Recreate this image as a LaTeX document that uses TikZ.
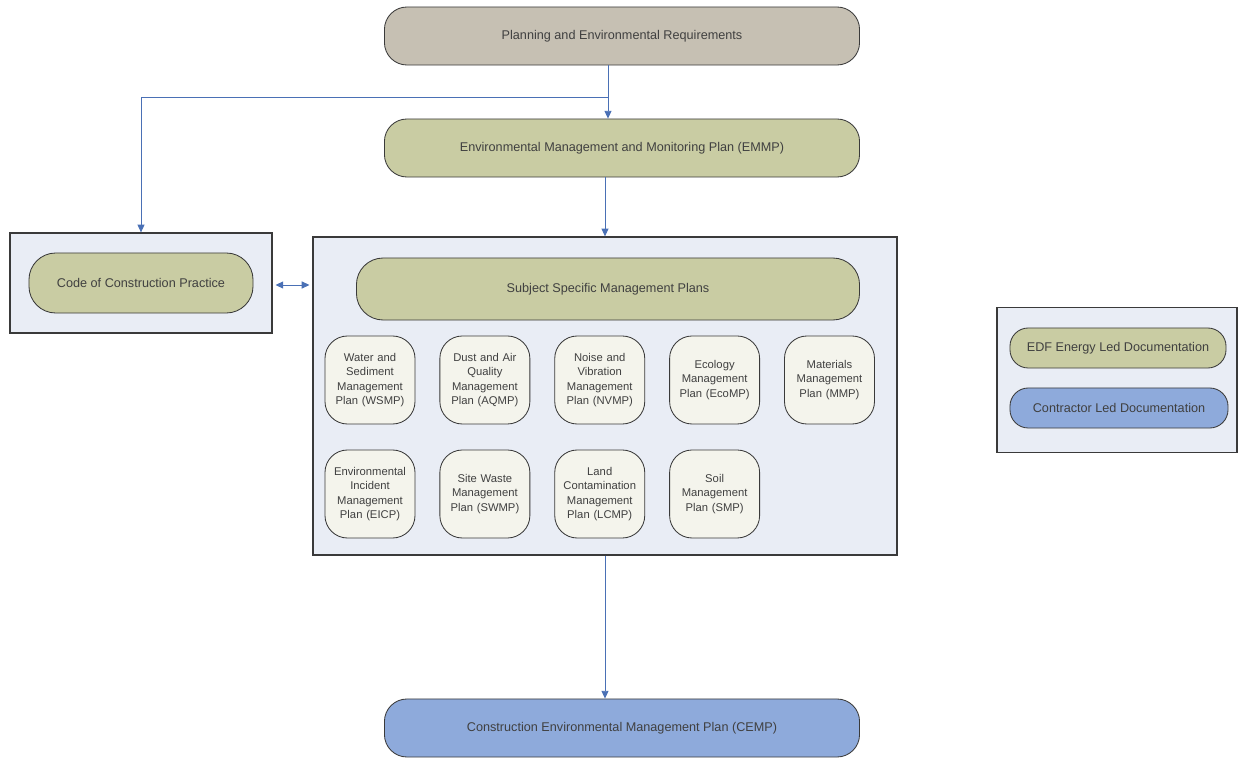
\documentclass[tikz,border=0pt]{standalone}
\usepackage{fontspec}
\setmainfont{Liberation Sans}
\usetikzlibrary{arrows.meta, positioning, calc}
\definecolor{plangrey}{HTML}{C6C0B3}
\definecolor{edfgreen}{HTML}{C9CCA3}
\definecolor{subcream}{HTML}{F4F4EC}
\definecolor{panelblue}{HTML}{E9EDF5}
\definecolor{contblue}{HTML}{8EAADB}
\definecolor{linkblue}{HTML}{4A70B5}
\definecolor{edgegrey}{HTML}{3A3A3A}

\begin{document}
\begin{tikzpicture}[x=0.025cm, y=-0.025cm,
    doc/.style={draw=edgegrey, fill=#1, rounded corners=16pt, line width=0.6pt,
                font=\fontsize{9}{11}\selectfont, text=black!75, align=center},
    wide/.style={doc=#1, minimum width=11.875cm, minimum height=1.45cm},
    subplan/.style={doc=subcream, minimum width=2.25cm, minimum height=2.2cm,
                    text width=2.15cm, inner sep=1pt, font=\fontsize{8}{10.2}\selectfont},
    panel/.style={draw=edgegrey, fill=panelblue, line width=0.9pt},
    link/.style={-{Triangle[length=5.5pt, width=5pt]}, linkblue, line width=0.6pt},
]
    \useasboundingbox (0,0) rectangle (1238,760);

    % Containers
    \node[panel, minimum width=6.55cm, minimum height=2.5cm] (cocpbox) at (141,283) {};
    \node[panel, minimum width=14.6cm, minimum height=7.95cm] (big) at (605,396) {};
    \node[panel, minimum width=6.0cm, minimum height=3.625cm] (legend) at (1117,380) {};

    % Main chain
    \node[wide=plangrey] (plan) at (622,36) {Planning and Environmental Requirements};
    \node[wide=edfgreen] (emmp) at (622,148) {Environmental Management and Monitoring Plan (EMMP)};
    \node[wide=contblue] (cemp) at (622,728) {Construction Environmental Management Plan (CEMP)};

    \node[doc=edfgreen, rounded corners=19pt, minimum width=5.6cm, minimum height=1.5cm] (cocp) at (cocpbox.center) {Code of Construction Practice};
    \node[doc=edfgreen, rounded corners=19pt, minimum width=12.575cm, minimum height=1.55cm] (ssmp) at (608,289) {Subject Specific Management Plans};

    % Subject plans
    \node[subplan] (wsmp) at (370,380) {Water and\\Sediment\\Management\\Plan (WSMP)};
    \node[subplan, right=0.6cm of wsmp] (aqmp) {Dust and Air\\Quality\\Management\\Plan (AQMP)};
    \node[subplan, right=0.6cm of aqmp] (nvmp) {Noise and\\Vibration\\Management\\Plan (NVMP)};
    \node[subplan, right=0.6cm of nvmp] (ecomp) {Ecology\\Management\\Plan (EcoMP)};
    \node[subplan, right=0.6cm of ecomp] (mmp) {Materials\\Management\\Plan (MMP)};
    \node[subplan] (eicp) at (370,494) {Environmental\\Incident\\Management\\Plan (EICP)};
    \node[subplan, right=0.6cm of eicp] (swmp) {Site Waste\\Management\\Plan (SWMP)};
    \node[subplan, right=0.6cm of swmp] (lcmp) {Land\\Contamination\\Management\\Plan (LCMP)};
    \node[subplan, right=0.6cm of lcmp] (smp) {Soil\\Management\\Plan (SMP)};

    % Legend
    \node[doc=edfgreen, rounded corners=13pt, minimum width=5.4cm, minimum height=1.0cm] (edfkey) at (1118,348) {EDF Energy Led Documentation};
    \node[doc=contblue, rounded corners=13pt, minimum width=5.45cm, minimum height=1.0cm] (contkey) at (1119,408) {Contractor Led Documentation};

    % Connectors
    \coordinate (split) at (608,97);
    \draw[link] ([xshift=-0.35cm]plan.south) -- ([xshift=-0.35cm]emmp.north);
    \draw[link] (split) -| (cocpbox.north);
    \draw[link] (emmp.south -| big.north) -- (big.north);
    \draw[link] (big.south) -- (cemp.north -| big.south);
    \draw[{Triangle[length=5.5pt, width=5pt]}-{Triangle[length=5.5pt, width=5pt]}, linkblue, line width=0.6pt,
          shorten <=2pt, shorten >=2pt] ([yshift=-0.05cm]cocpbox.east) -- ([yshift=-0.05cm]cocpbox.east -| big.west);
\end{tikzpicture}
\end{document}
